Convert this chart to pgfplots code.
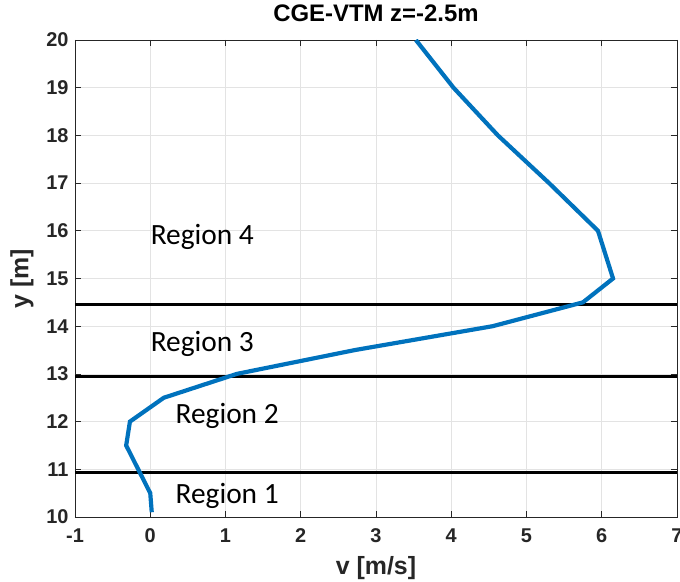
\documentclass[border=0pt]{standalone}
\usepackage{fontspec}
\usepackage{pgfplots}
\pgfplotsset{compat=1.18}
\newfontfamily\mlfont{Liberation Sans}
\newfontfamily\regfont{Carlito}
\definecolor{mlblue}{RGB}{0,114,189}
\definecolor{axgray}{RGB}{38,38,38}

\begin{document}
\begin{tikzpicture}
  \path[use as bounding box] (-75bp,-65bp) rectangle (605bp,517bp);
  \begin{axis}[
      scale only axis, width=602bp, height=477bp,
      xmin=-1, xmax=7, ymin=10, ymax=20,
      xtick={-1,0,...,7}, ytick={10,11,...,20},
      grid=major, major grid style={gray!22, line width=0.6pt},
      axis line style={axgray, line width=0.7pt},
      tick style={axgray, line width=0.7pt},
      tick align=inside, major tick length=6bp,
      ticklabel style={font=\mlfont\bfseries\fontsize{20}{22}\selectfont, text=axgray},
      /pgf/number format/assume math mode=true,
      xticklabel style={yshift=-8bp},
      yticklabel style={xshift=-3bp},
      xlabel={v [m/s]}, ylabel={y [m]},
      label style={font=\mlfont\bfseries\fontsize{25}{27}\selectfont, text=axgray},
      xlabel style={at={(axis description cs:0.5,0)}, anchor=north, yshift=-36bp},
      ylabel style={at={(axis description cs:-0.088,0.5)}, anchor=center},
      title={CGE-VTM z=-2.5m},
      title style={font=\mlfont\bfseries\fontsize{24}{26}\selectfont,
        at={(axis description cs:0.5,1)}, anchor=base, yshift=13bp},
    ]
    % region boundaries
    \addplot[black, line width=3.4pt] coordinates {(-1,10.93) (7,10.93)};
    \addplot[black, line width=3.4pt] coordinates {(-1,12.95) (7,12.95)};
    \addplot[black, line width=3.4pt] coordinates {(-1,14.46) (7,14.46)};
    % velocity profile
    \addplot[mlblue, line width=4.2pt, line join=miter] coordinates {
      (0.02,10.10) (0.00,10.50) (-0.32,11.50) (-0.27,12.00) (0.18,12.50)
      (1.15,13.00) (2.72,13.50) (4.55,14.00) (5.75,14.50) (6.15,15.00)
      (5.95,16.00) (5.30,17.00) (4.62,18.00) (4.03,19.00) (3.53,20.00)};
    \node[font=\regfont\fontsize{29.5}{32}\selectfont, anchor=west] at (axis cs:-0.04,15.88) {Region 4};
    \node[font=\regfont\fontsize{29.5}{32}\selectfont, anchor=west] at (axis cs:-0.04,13.62) {Region 3};
    \node[font=\regfont\fontsize{29.5}{32}\selectfont, anchor=west] at (axis cs:0.29,12.12) {Region 2};
    \node[font=\regfont\fontsize{29.5}{32}\selectfont, anchor=west] at (axis cs:0.29,10.45) {Region 1};
  \end{axis}
\end{tikzpicture}
\end{document}
